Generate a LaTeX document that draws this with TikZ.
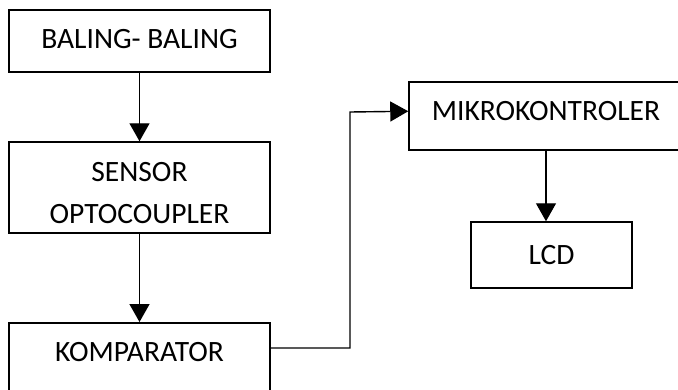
\documentclass[tikz,border=0pt]{standalone}
\usepackage{fontspec}
\setmainfont{Carlito}
\usetikzlibrary{arrows.meta,calc}

\tikzset{
  blockbox/.style={draw=black, line width=1.5pt, inner sep=0pt, align=center,
    font=\fontsize{29.5}{42}\selectfont, text height=19pt, text depth=0pt},
  flow/.style={line width=1.4pt, -{Triangle[width=20pt,length=18pt]}},
}

\begin{document}
\begin{tikzpicture}[x=1pt,y=-1pt]
  \useasboundingbox (0,0) rectangle (678,389);
  \fill[white] (0,0) rectangle (678,389);
  \clip (0,0) rectangle (678,389);

  % left column
  \node[blockbox, minimum width=261pt, minimum height=62pt, text depth=4pt]
    (baling) at (139.5,41) {BALING- BALING};
  \node[blockbox, minimum width=261pt, minimum height=91pt, text height=72pt]
    (sensor) at (139.5,187.5) {SENSOR\\OPTOCOUPLER};
  \node[blockbox, minimum width=261pt, anchor=north, text height=39pt, text depth=40pt]
    (komp) at (139.5,322) {KOMPARATOR};

  % right column
  \node[blockbox, minimum width=274pt, minimum height=68pt, text depth=10pt]
    (mikro) at (546,116) {MIKROKONTROLER};
  \node[blockbox, minimum width=161pt, minimum height=66pt]
    (lcd) at (551.5,255) {LCD};

  % connectors
  \draw[flow] (baling.south) -- (sensor.north);
  \draw[flow] (sensor.south) -- (komp.north);
  \coordinate (kout) at ($(komp.north east)+(0,26)$);
  \coordinate (min) at ($(mikro.north west)+(0,30)$);
  \draw[flow] (kout) -- (350,348) -- (350,112) -- (min);
  \draw[flow] (mikro.south) -- (mikro.south |- lcd.north);
\end{tikzpicture}
\end{document}
